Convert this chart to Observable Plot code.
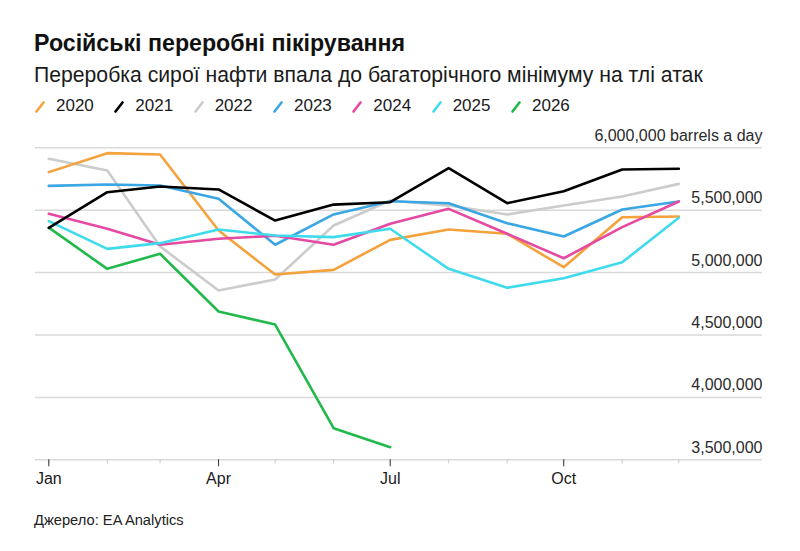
<!DOCTYPE html>
<html><head><meta charset="utf-8">
<script src="https://cdn.jsdelivr.net/npm/d3@7"></script>
<script src="https://cdn.jsdelivr.net/npm/@observablehq/plot@0.6"></script>
<style>
html,body{margin:0;padding:0;background:#fff;}
#wrap{position:relative;width:800px;height:551px;overflow:hidden;font-family:"Liberation Sans",Arial,Helvetica,sans-serif;color:#111;}
#title{position:absolute;left:34px;top:32.2px;font-size:23.2px;font-weight:bold;line-height:1;white-space:nowrap}
#subtitle{position:absolute;left:34px;top:63.8px;font-size:21.2px;line-height:1;white-space:nowrap;color:#1a1a1a}
#legend{position:absolute;left:35px;top:97.3px;font-size:17px;line-height:1;display:flex;white-space:nowrap;color:#1a1a1a}
#legend .item{display:flex;align-items:flex-end;margin-right:20.5px}
#legend svg{margin-right:11px;margin-bottom:1px}
#chart{position:absolute;left:0;top:118px}
#caption{position:absolute;left:34px;top:512.6px;font-size:14.7px;line-height:1;color:#222}
</style>
</head><body>
<div id="wrap">
  <div id="title">Російські переробні пікірування</div>
  <div id="subtitle">Переробка сирої нафти впала до багаторічного мінімуму на тлі атак</div>
  <div id="legend"></div>
  <div id="chart"></div>
  <div id="caption">Джерело: EA Analytics</div>
</div>
<script>
// ---- data ----
const months = ["2021-01-01","2021-02-01","2021-03-01","2021-04-01","2021-05-01","2021-06-01",
                "2021-07-01","2021-08-01","2021-09-01","2021-10-01","2021-11-01","2021-12-01"];
const labeledMonths = ["2021-01-01","2021-04-01","2021-07-01","2021-10-01"];
const years = ["2020","2021","2022","2023","2024","2025","2026"];
const colors = ["#f4a23c","#000000","#cccccc","#3aa6e4","#e44aa2","#3fdbec","#22b94b"];

const y2020 = [5805000,5957000,5946000,5337000,4985000,5022000,5262000,5345000,5311000,5043000,5444000,5450000];
const y2021 = [5359000,5644000,5690000,5666000,5417000,5545000,5564000,5837000,5556000,5652000,5826000,5832000];
const y2022 = [5912000,5818000,5210000,4857000,4945000,5377000,5578000,5537000,5466000,5537000,5610000,5711000];
const y2023 = [5695000,5706000,5698000,5591000,5223000,5466000,5572000,5556000,5396000,5289000,5506000,5570000];
const y2024 = [5471000,5351000,5223000,5271000,5295000,5223000,5391000,5511000,5311000,5115000,5364000,5570000];
const y2025 = [5412000,5190000,5236000,5345000,5297000,5284000,5351000,5030000,4878000,4955000,5083000,5439000];
const y2026 = [5360000,5030000,5151000,4688000,4584000,3753000,3601000];

const yTicks = [6000000,5500000,5000000,4500000,4000000,3500000];

// ---- build table ----
const seriesByYear = {"2020":y2020,"2021":y2021,"2022":y2022,"2023":y2023,"2024":y2024,"2025":y2025,"2026":y2026};
const drawOrder = ["2022","2020","2023","2024","2025","2026","2021"];
const parse = d3.utcParse("%Y-%m-%d");
const rows = [];
for (const yr of drawOrder) {
  seriesByYear[yr].forEach((v, i) => rows.push({year: yr, date: parse(months[i]), value: v}));
}
const fmt = d3.format(",");

const chart = Plot.plot({
  width: 800,
  height: 380,
  marginLeft: 35,
  marginRight: 38,
  marginTop: 29.3,
  marginBottom: 38.7,
  style: {fontFamily: '"Liberation Sans", Arial, sans-serif', background: "transparent"},
  x: {type: "utc", domain: [parse(months[0]), parse(months[11])], range: [48.3, 678.3], axis: null},
  y: {domain: [3500000, 6000000], axis: null},
  color: {domain: years, range: colors},
  marks: [
    Plot.ruleY(yTicks, {stroke: "#d9d9d9", strokeWidth: 1.5}),
    Plot.text(yTicks, {
      y: d => d,
      text: d => d === 6000000 ? fmt(d) + " barrels a day" : fmt(d),
      frameAnchor: "right", textAnchor: "end", lineAnchor: "bottom", dy: -7,
      fontSize: 16, fill: "#2a2a2a"
    }),
    Plot.axisX({ticks: months.map(parse), tickSize: 4, stroke: "#c8c8c8", tickFormat: () => "", label: null}),
    Plot.axisX({ticks: labeledMonths.map(parse), tickSize: 7, tickPadding: 6, tickFormat: d3.utcFormat("%b"),
                stroke: "#333", fontSize: 16, fill: "#1a1a1a", label: null}),
    Plot.line(rows, {x: "date", y: "value", z: "year", stroke: "year", strokeWidth: 2.6,
                     strokeLinejoin: "round", strokeLinecap: "round"})
  ]
});
document.getElementById("chart").appendChild(chart);

// ---- legend ----
const legend = document.getElementById("legend");
years.forEach((yr, i) => {
  const item = document.createElement("div");
  item.className = "item";
  item.innerHTML = `<svg width="10" height="12"><line x1="1.5" y1="10.5" x2="8.5" y2="1.5" stroke="${colors[i]}" stroke-width="2.6" stroke-linecap="round"/></svg><span>${yr}</span>`;
  legend.appendChild(item);
});
</script>
</body></html>
